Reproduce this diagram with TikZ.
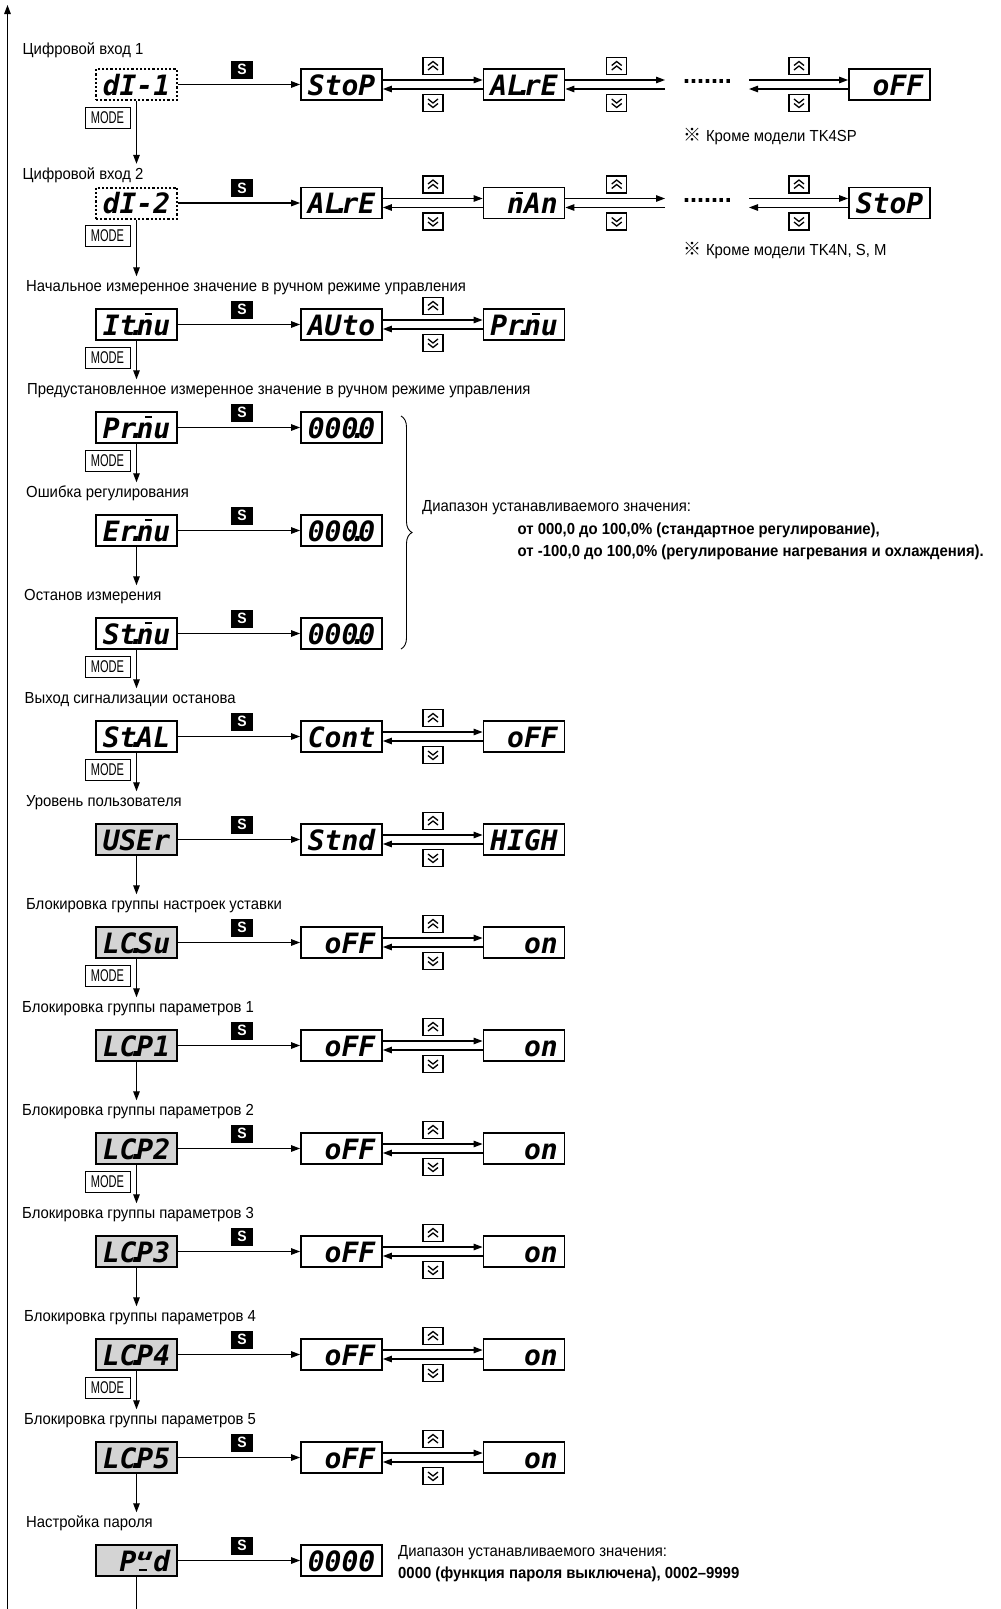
\documentclass[tikz,border=0pt]{standalone}
\usepackage{fontspec}
\usepackage{graphicx}
\setmainfont{Liberation Sans}[FakeStretch=0.93]
\newfontfamily\pnseg{DejaVu Sans Mono}
\newfontfamily\pncjk{Noto Sans CJK SC}
\usetikzlibrary{positioning,arrows.meta,calc,decorations.pathreplacing}
\definecolor{pncinza}{HTML}{D4D4D4}
% ponto decimal e letras especiais do visor de 7 segmentos
\newcommand{\pnponto}{\makebox[0pt]{.}}
\newcommand{\pnm}{\makebox[0pt][l]{\hspace{0.3em}\rule[0.7em]{0.26em}{0.08em}}n}
\newcommand{\pnw}{\makebox[0pt][l]{\raisebox{0.36em}{\scalebox{1}[0.55]{u}}}\makebox[0pt][l]{\hspace{0.1em}\rule{0.28em}{0.09em}}\phantom{u}}
\newcommand{\pnmode}{\scalebox{0.7}[1]{MODE}}
\tikzset{
  pnvisor/.style={draw, line width=1.8pt, minimum width=81pt, minimum height=31pt,
                  inner sep=0pt, text height=21pt, text depth=0pt,
                  font=\pnseg\bfseries\itshape\fontsize{28}{28}\selectfont},
  pnvisorcinza/.style={pnvisor, fill=pncinza},
  pnvisorpont/.style={pnvisor, line width=2pt, dash pattern=on 2.2pt off 2pt},
  pntecla/.style={fill=black, text=white, minimum width=22pt, minimum height=18pt,
                  inner sep=0pt, font=\bfseries\fontsize{15}{15}\selectfont},
  pnbotao/.style={draw, line width=1.1pt, minimum width=20pt, minimum height=17pt, inner sep=0pt},
  pncima/.style={pnbotao, path picture={
      \draw[line width=1.3pt] ([shift={(-5,-0.5)}]path picture bounding box.center) -- ++(5,-4) -- ++(5,4);
      \draw[line width=1.3pt] ([shift={(-5,4)}]path picture bounding box.center) -- ++(5,-4) -- ++(5,4);}},
  pnbaixo/.style={pnbotao, path picture={
      \draw[line width=1.3pt] ([shift={(-5,-4)}]path picture bounding box.center) -- ++(5,4) -- ++(5,-4);
      \draw[line width=1.3pt] ([shift={(-5,0.5)}]path picture bounding box.center) -- ++(5,4) -- ++(5,-4);}},
  pnmodo/.style={draw, line width=1pt, minimum width=45pt, minimum height=21pt,
                 inner sep=0pt, font=\fontsize{17}{17}\selectfont},
  pnseta/.style={-{Triangle[length=9pt,width=6.5pt]}, line width=1.2pt},
  pnfio/.style={line width=1.2pt},
  pnrotulo/.style={anchor=west, inner sep=1pt, text height=11pt, text depth=3pt,
                   font=\fontsize{16}{19}\selectfont},
  pnnegrito/.style={pnrotulo, font=\bfseries\fontsize{16}{19}\selectfont},
  pnchave/.style={decorate, decoration={brace, amplitude=11pt}, line width=0.9pt},
}

\begin{document}
\begin{tikzpicture}[x=1pt, y=-1pt]
  \useasboundingbox (0,0) rectangle (1001,1609);
  % linha de retorno a esquerda
  \coordinate (retbase) at (7.5,1609);
  \coordinate (rettopo) at (7.5,5);
  \draw[pnseta] (retbase) -- (rettopo);

  % entradas digitais
  \node[pnrotulo] (rdi1) at (21.5,50) {Цифровой вход 1};
  \node[pnvisorpont] (di1) at (136.5,84.5) {dI-1};
  \node[pnvisor] (di1-b) at (341.5,84.5) {StoP};
  \node[pnvisor] (di1-c) at (524,84.5) {AL\pnponto rE};
  \node[pnvisor] (di1-f) at (889.5,84.5) {\phantom{0}oFF};
  \node[pnrotulo] (ndi1) at (682.7,137) {{\pncjk\fontsize{18}{18}\selectfont ※} Кроме модели TK4SP};
  \node[pnrotulo] (rdi2) at (21.5,175) {Цифровой вход 2};
  \node[pnvisorpont] (di2) at (136.5,203) {dI-2};
  \node[pnvisor] (di2-b) at (341.5,203) {AL\pnponto rE};
  \node[pnvisor] (di2-c) at (524,203) {\phantom{0}\pnm An};
  \node[pnvisor] (di2-f) at (889.5,203) {StoP};
  \node[pnrotulo] (ndi2) at (682.7,251) {{\pncjk\fontsize{18}{18}\selectfont ※} Кроме модели TK4N, S, M};
  \foreach \n/\cy in {di1/84.5,di2/203}{
    \coordinate (\n-e) at (665,\cy);
    \coordinate (\n-g) at (749,\cy);
    \node[inner sep=0pt, font=\bfseries\fontsize{27}{27}\selectfont] (\n-pt) at (707.5,\cy-3) {.......};
    \node[pncima] (\n-up2) at (616.7,\cy-18.5) {};
    \node[pnbaixo] (\n-dn2) at (616.7,\cy+18.5) {};
    \node[pncima] (\n-up3) at (799,\cy-18.5) {};
    \node[pnbaixo] (\n-dn3) at (799,\cy+18.5) {};
    \draw[pnseta] ([yshift=4.5pt]\n-c.east) -- ([yshift=4.5pt]\n-e);
    \draw[pnseta] ([yshift=-4.5pt]\n-e) -- ([yshift=-4.5pt]\n-c.east);
    \draw[pnseta] ([yshift=4.5pt]\n-g) -- ([yshift=4.5pt]\n-f.west);
    \draw[pnseta] ([yshift=-4.5pt]\n-f.west) -- ([yshift=-4.5pt]\n-g);
  }

  % modo manual
  \node[pnrotulo] (ritmu) at (24.9,287.5) {Начальное измеренное значение в ручном режиме управления};
  \node[pnvisor] (itmu) at (136.5,324.5) {It\pnponto\pnm u};
  \node[pnvisor] (itmu-b) at (341.5,324.5) {AUto};
  \node[pnvisor] (itmu-c) at (524,324.5) {Pr\pnponto\pnm u};
  \node[pnrotulo] (rprmu) at (26,390.5) {Предустановленное измеренное значение в ручном режиме управления};
  \node[pnvisor] (prmu) at (136.5,427.5) {Pr\pnponto\pnm u};
  \node[pnvisor] (prmu-b) at (341.5,427.5) {000\pnponto 0};
  \node[pnrotulo] (rermu) at (25,493.5) {Ошибка регулирования};
  \node[pnvisor] (ermu) at (136.5,530.5) {Er\pnponto\pnm u};
  \node[pnvisor] (ermu-b) at (341.5,530.5) {000\pnponto 0};
  \node[pnrotulo] (rstmu) at (23,596.5) {Останов измерения};
  \node[pnvisor] (stmu) at (136.5,633.5) {St\pnponto\pnm u};
  \node[pnvisor] (stmu-b) at (341.5,633.5) {000\pnponto 0};
  % faixa de ajuste
  \draw[pnchave] (401,416) -- (401,649);
  \node[pnrotulo] (faixa1) at (421,507) {Диапазон устанавливаемого значения:};
  \node[pnnegrito] (faixa2) at (516.5,530) {от 000,0 до 100,0\% (стандартное регулирование),};
  \node[pnnegrito] (faixa3) at (516.5,552.5) {от -100,0 до 100,0\% (регулирование нагревания и охлаждения).};

  % alarme e usuario
  \node[pnrotulo] (rstal) at (23.5,699.5) {Выход сигнализации останова};
  \node[pnvisor] (stal) at (136.5,736.5) {St\pnponto AL};
  \node[pnvisor] (stal-b) at (341.5,736.5) {Cont};
  \node[pnvisor] (stal-c) at (524,736.5) {\phantom{0}oFF};
  \node[pnrotulo] (ruser) at (24.9,802.5) {Уровень пользователя};
  \node[pnvisorcinza] (user) at (136.5,839.5) {USEr};
  \node[pnvisor] (user-b) at (341.5,839.5) {Stnd};
  \node[pnvisor] (user-c) at (524,839.5) {HIGH};

  % bloqueios
  \node[pnrotulo] (rlcsu) at (24.9,905.5) {Блокировка группы настроек уставки};
  \node[pnvisorcinza] (lcsu) at (136.5,942.5) {LC\pnponto Su};
  \node[pnvisor] (lcsu-b) at (341.5,942.5) {\phantom{0}oFF};
  \node[pnvisor] (lcsu-c) at (524,942.5) {\phantom{00}on};
  \foreach \k/\cy/\rx in {1/1045.5/21,2/1148.5/21,3/1251.5/21,4/1354.5/23,5/1457.5/23}{
    \node[pnrotulo] (rlcp\k) at (\rx,\cy-37) {Блокировка группы параметров \k};
    \node[pnvisorcinza] (lcp\k) at (136.5,\cy) {LC\pnponto P\k};
    \node[pnvisor] (lcp\k-b) at (341.5,\cy) {\phantom{0}oFF};
    \node[pnvisor] (lcp\k-c) at (524,\cy) {\phantom{00}on};
  }

  % senha
  \node[pnrotulo] (rpwd) at (24.9,1523.5) {Настройка пароля};
  \node[pnvisorcinza] (pwd) at (136.5,1560.5) {\phantom{0}P\pnw d};
  \node[pnvisor] (pwd-b) at (341.5,1560.5) {0000};
  \node[pnrotulo] (senha1) at (397,1552.5) {Диапазон устанавливаемого значения:};
  \node[pnnegrito] (senha2) at (397,1574.5) {0000 (функция пароля выключена), 0002–9999};
  \coordinate (pwdfim) at (136.5,1609);
  \draw[pnfio] (pwd) -- (pwdfim);

  % tecla S em todas as linhas
  \foreach \n/\cy in {di1/84.5,di2/203,itmu/324.5,prmu/427.5,ermu/530.5,stmu/633.5,stal/736.5,
                      user/839.5,lcsu/942.5,lcp1/1045.5,lcp2/1148.5,lcp3/1251.5,lcp4/1354.5,
                      lcp5/1457.5,pwd/1560.5}{
    \node[pntecla] (\n-s) at (242,\cy-15) {S};
    \draw[pnseta] (\n) -- (\n-b);
  }
  % alternancia entre dois valores
  \foreach \n/\cy in {di1/84.5,di2/203,itmu/324.5,stal/736.5,user/839.5,lcsu/942.5,
                      lcp1/1045.5,lcp2/1148.5,lcp3/1251.5,lcp4/1354.5,lcp5/1457.5}{
    \node[pncima] (\n-up) at (433,\cy-18.5) {};
    \node[pnbaixo] (\n-dn) at (433,\cy+18.5) {};
    \draw[pnseta] ([yshift=4.5pt]\n-b.east) -- ([yshift=4.5pt]\n-c.west);
    \draw[pnseta] ([yshift=-4.5pt]\n-c.west) -- ([yshift=-4.5pt]\n-b.east);
  }
  % descida entre parametros
  \foreach \de/\para in {di1/di2,di2/itmu,itmu/prmu,prmu/ermu,ermu/stmu,stmu/stal,stal/user,
                         user/lcsu,lcsu/lcp1,lcp1/lcp2,lcp2/lcp3,lcp3/lcp4,lcp4/lcp5,lcp5/pwd}{
    \draw[pnseta, shorten >=3pt] (\de) -- (\de |- r\para.north);
  }
  % teclas MODE
  \foreach \n in {di1,di2,itmu,prmu,stmu,stal,lcsu,lcp2,lcp4}{
    \node[pnmodo] (\n-mo) at ([shift={(-29,33)}]\n.center) {\pnmode};
  }
\end{tikzpicture}
\end{document}
